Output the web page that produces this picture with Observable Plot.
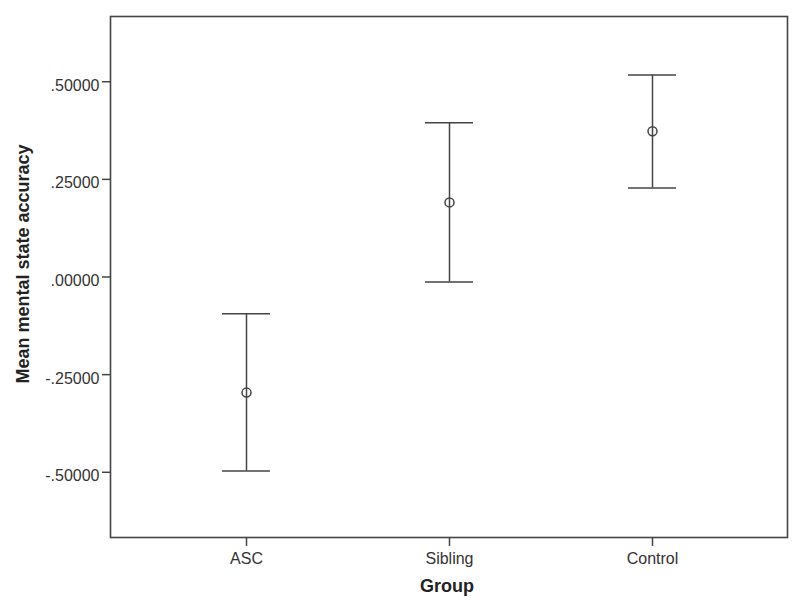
<!DOCTYPE html>
<html>
<head>
<meta charset="utf-8">
<script src="https://cdn.jsdelivr.net/npm/d3@7"></script>
<script src="https://cdn.jsdelivr.net/npm/@observablehq/plot@0.6"></script>
<style>
  html, body { margin: 0; padding: 0; background: #fff; }
  #chart { width: 800px; height: 616px; }
</style>
</head>
<body>
<div id="chart"></div>
<script>
// Data
const groups = ["ASC", "Sibling", "Control"];
const means  = [-0.296, 0.191, 0.373];
const lowers = [-0.497, -0.013, 0.228];
const uppers = [-0.094, 0.395, 0.517];
const yTicks = [-0.5, -0.25, 0, 0.25, 0.5];
const xTitle = "Group";
const yTitle = "Mean mental state accuracy";

const rows = groups.map((g, i) => ({group: g, mean: means[i], lower: lowers[i], upper: uppers[i]}));
const fmt = v => v.toFixed(5).replace("0.", ".");
const ink = "#444";

const chart = Plot.plot({
  width: 800,
  height: 616,
  marginLeft: 110,
  marginTop: 16,
  marginRight: 13,
  marginBottom: 79,
  style: {fontFamily: "Liberation Sans, Arial, sans-serif", background: "#fff", color: "#333"},
  x: {type: "band", domain: groups, paddingInner: 0.764, paddingOuter: 0.547},
  y: {domain: [-0.667, 0.667]},
  marks: [
    // tick marks only
    Plot.axisY(yTicks, {tickSize: 8, tickFormat: () => "", stroke: ink, strokeWidth: 1.5, label: null}),
    // tick labels only, nudged down as in the reference
    Plot.axisY(yTicks, {tickSize: 0, tickPadding: 11, tickFormat: fmt, fontSize: 16, dy: 4, label: null}),
    Plot.axisX({tickSize: 9, tickPadding: 6, fontSize: 16, stroke: ink, strokeWidth: 1.5, label: null}),
    Plot.frame({stroke: ink, strokeWidth: 1.6}),
    Plot.ruleX(rows, {x: "group", y1: "lower", y2: "upper", stroke: ink, strokeWidth: 1.5}),
    Plot.tickY(rows, {x: "group", y: "upper", stroke: ink, strokeWidth: 1.5}),
    Plot.tickY(rows, {x: "group", y: "lower", stroke: ink, strokeWidth: 1.5}),
    Plot.dot(rows, {x: "group", y: "mean", r: 4.5, stroke: ink, strokeWidth: 1.5, fill: "none"}),
    Plot.text([yTitle], {frameAnchor: "left", textAnchor: "middle", dx: -87, dy: -13, rotate: -90, fontSize: 18, fontWeight: "bold", fill: "#222"}),
    Plot.text([xTitle], {frameAnchor: "bottom", dy: 54, dx: -2, fontSize: 18, fontWeight: "bold", fill: "#222"})
  ]
});
document.getElementById("chart").appendChild(chart);
</script>
</body>
</html>
